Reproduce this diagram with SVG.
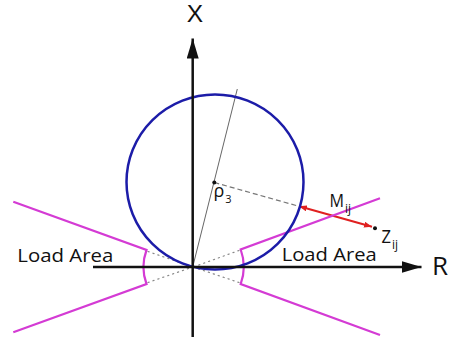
<svg xmlns="http://www.w3.org/2000/svg" width="452" height="344" viewBox="0 0 452 344">
  <style>
    .axis { stroke: #111; stroke-width: 2.5; fill: none; }
    .mag { stroke: #d43bd4; stroke-width: 2.2; fill: none; stroke-linejoin: miter; }
    .dot { stroke: #888; stroke-width: 1.2; fill: none; stroke-dasharray: 1.2 4; stroke-linecap: round; }
    .lbl { font-family: "Open Sans", "Liberation Sans", sans-serif; fill: #111; }
  </style>
  <defs>
    <marker id="axhead" viewBox="0 0 20 12" refX="20" refY="6" markerWidth="20" markerHeight="12" markerUnits="userSpaceOnUse" orient="auto">
      <path d="M0,0 L20,6 L0,12 Z" fill="#111"/>
    </marker>
    <marker id="redhead" viewBox="0 0 8 6" refX="8" refY="3" markerWidth="8" markerHeight="6" markerUnits="userSpaceOnUse" orient="auto-start-reverse">
      <path d="M0,0 L8,3 L0,6 Z" fill="#e02020"/>
    </marker>
  </defs>
  <rect width="452" height="344" fill="#fff"/>

  <g id="connectors">
    <line class="dot" x1="148" y1="251.5" x2="190" y2="266"/>
    <line class="dot" x1="148" y1="282.5" x2="190" y2="268"/>
    <line class="dot" x1="239" y1="250.5" x2="196" y2="266"/>
    <line class="dot" x1="239" y1="282.5" x2="196" y2="268"/>
    <line x1="192.7" y1="267" x2="237.3" y2="89" stroke="#666" stroke-width="1"/>
    <line x1="214.3" y1="182.5" x2="298" y2="206" stroke="#777" stroke-width="1.2" stroke-dasharray="5 3"/>
    <line x1="299" y1="206.3" x2="372" y2="226.8" stroke="#e02020" stroke-width="2" marker-start="url(#redhead)" marker-end="url(#redhead)"/>
  </g>

  <g id="load-lines">
    <path class="mag" d="M13.3,201.7 L146.5,250 A49.5,49.5 0 0 0 146.5,284 L13.3,332.3"/>
    <path class="mag" d="M380,198.3 L240.7,249.5 A51,51 0 0 1 240.7,284 L380,335"/>
  </g>

  <g id="circle">
    <ellipse cx="215" cy="182" rx="88.5" ry="87.5" fill="none" stroke="#1c1ca8" stroke-width="2.5"/>
  </g>

  <g id="axes">
    <line class="axis" x1="192.7" y1="337" x2="192.7" y2="38.5" marker-end="url(#axhead)"/>
    <line class="axis" x1="93" y1="267" x2="421.5" y2="267" marker-end="url(#axhead)"/>
  </g>

  <g id="points">
    <circle cx="214.3" cy="182.5" r="2" fill="#111"/>
    <circle cx="375" cy="228.3" r="2" fill="#111"/>
  </g>

  <g id="labels">
    <text x="195" y="22.3" font-size="24.5" text-anchor="middle" font-family="'Liberation Sans', Arial, sans-serif" fill="#111">X</text>
    <text class="lbl" x="432" y="275" font-size="26">R</text>
    <text class="lbl" x="17.3" y="261.5" font-size="17.5" textLength="96" lengthAdjust="spacingAndGlyphs">Load Area</text>
    <text class="lbl" x="281.7" y="261" font-size="17.5" textLength="95" lengthAdjust="spacingAndGlyphs">Load Area</text>
    <text class="lbl" x="329.5" y="206.7" font-size="18.5" textLength="14.5" lengthAdjust="spacingAndGlyphs">M</text>
    <text class="lbl" x="345" y="213" font-size="12">ij</text>
    <text class="lbl" x="381.5" y="242.7" font-size="18.5" textLength="9.5" lengthAdjust="spacingAndGlyphs">Z</text>
    <text class="lbl" x="392" y="249" font-size="12">ij</text>
    <text class="lbl" x="213.5" y="197" font-size="18">ρ</text>
    <text class="lbl" x="225.3" y="203.3" font-size="11">3</text>
  </g>
</svg>
